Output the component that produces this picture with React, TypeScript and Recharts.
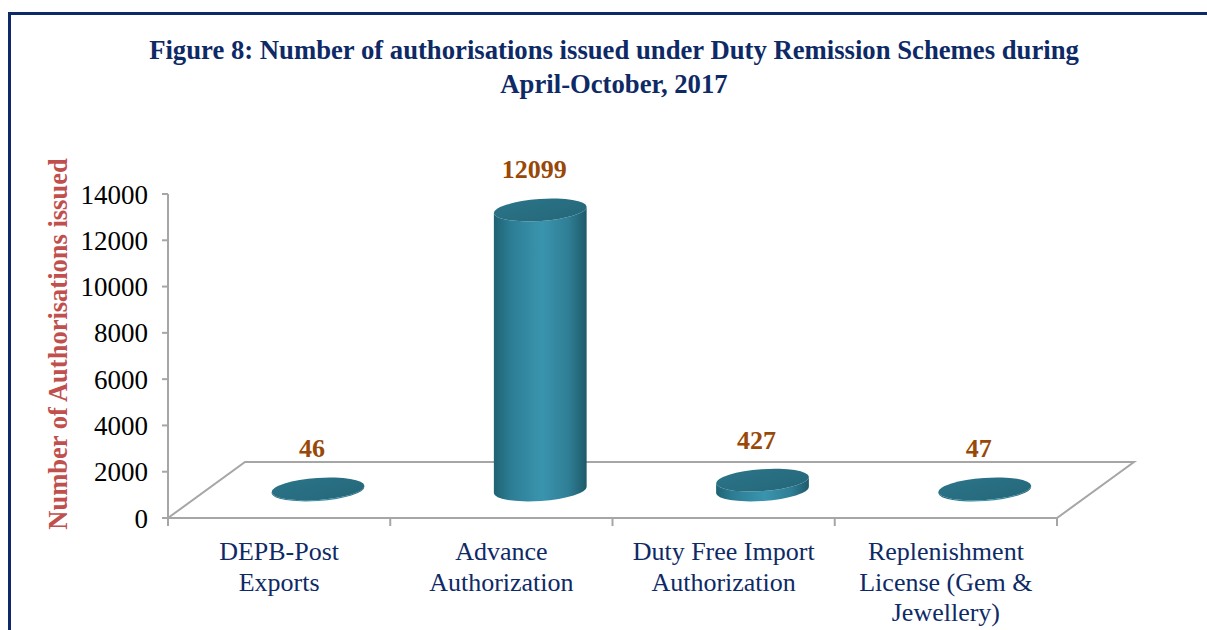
import { BarChart, Bar, XAxis, YAxis, LabelList, usePlotArea } from "recharts";

const CATEGORIES = [
  "DEPB-Post Exports",
  "Advance Authorization",
  "Duty Free Import Authorization",
  "Replenishment License (Gem & Jewellery)",
];
const CATEGORY_LINES = [
  ["DEPB-Post", "Exports"],
  ["Advance", "Authorization"],
  ["Duty Free Import", "Authorization"],
  ["Replenishment", "License (Gem &", "Jewellery)"],
];
const AUTHORISATIONS = [46, 12099, 427, 47];
const Y_TICKS = [0, 2000, 4000, 6000, 8000, 10000, 12000, 14000];

const data = CATEGORIES.map((category, i) => ({
  category,
  value: AUTHORISATIONS[i],
}));

const SERIF = '"Liberation Serif", "Times New Roman", serif';
const NAVY = "#0E2A66";
const GRID = "#A6A6A6";
const VALUE_COLOR = "#984807";
const FONT = 26;

// 3D floor depth (px)
const DX = 77;
const DY = 56;
const RY = 11;
const TILT = -4;

function Floor() {
  const area = usePlotArea();
  if (!area) return null;
  const left = area.x;
  const right = area.x + area.width;
  const base = area.y + area.height;
  const n = CATEGORIES.length;
  const pts = `${left},${base} ${right},${base} ${right + DX},${base - DY} ${left + DX},${base - DY}`;
  return (
    <g>
      <defs>
        <linearGradient id="cylBody" x1="0" y1="0" x2="1" y2="0">
          <stop offset="0%" stopColor="#1F6273" />
          <stop offset="18%" stopColor="#2C7D94" />
          <stop offset="52%" stopColor="#3A94AE" />
          <stop offset="80%" stopColor="#2F7F96" />
          <stop offset="100%" stopColor="#1E5A6A" />
        </linearGradient>
        <linearGradient id="cylTop" x1="0" y1="0" x2="1" y2="1">
          <stop offset="0%" stopColor="#2B7488" />
          <stop offset="100%" stopColor="#25677A" />
        </linearGradient>
      </defs>
      <polygon points={pts} fill="none" stroke={GRID} strokeWidth={2} />
      {Array.from({ length: n + 1 }, (_, i) => {
        const x = left + (i * area.width) / n;
        return <line key={i} x1={x} x2={x} y1={base} y2={base + 8} stroke={GRID} strokeWidth={2} />;
      })}
    </g>
  );
}

function Cylinder(props: any) {
  const { x, y, width, height } = props;
  const rx = width / 2;
  const cx = x + width / 2 + DX / 2;
  const topY = y - DY / 2;
  const botY = y + height - DY / 2;
  const a = (TILT * Math.PI) / 180;
  const ex = rx * Math.cos(a);
  const ey = rx * Math.sin(a);
  const body = `M ${cx - ex} ${topY - ey} L ${cx - ex} ${botY - ey} A ${rx} ${RY} ${TILT} 0 0 ${cx + ex} ${botY + ey} L ${cx + ex} ${topY + ey} A ${rx} ${RY} ${TILT} 0 1 ${cx - ex} ${topY - ey} Z`;
  return (
    <g>
      <path d={body} fill="url(#cylBody)" />
      <ellipse
        cx={cx}
        cy={topY}
        rx={rx}
        ry={RY}
        fill="url(#cylTop)"
        transform={`rotate(${TILT} ${cx} ${topY})`}
      />
    </g>
  );
}

function ValueLabel(props: any) {
  const x = Number(props.x);
  const y = Number(props.y);
  const width = Number(props.width);
  return (
    <text
      x={x + width / 2 + DX / 2 - 6}
      y={y - DY / 2 - 40}
      textAnchor="middle"
      dominantBaseline="central"
      fill={VALUE_COLOR}
      fontFamily={SERIF}
      fontWeight="bold"
      fontSize={FONT}
    >
      {props.value}
    </text>
  );
}

function CategoryTick(props: any) {
  const { x, y, payload } = props;
  const lines = CATEGORY_LINES[payload.index] || [payload.value];
  return (
    <text x={x} y={y} textAnchor="middle" fill={NAVY} fontFamily={SERIF} fontSize={FONT}>
      {lines.map((l, i) => (
        <tspan key={i} x={x} y={y + 40 + i * 30.5}>
          {l}
        </tspan>
      ))}
    </text>
  );
}

function AxisTitle(props: any) {
  const vb = props.viewBox || {};
  const cx = vb.x + 48;
  const cy = vb.y + vb.height / 2 - 12;
  return (
    <text
      x={cx}
      y={cy}
      transform={`rotate(-90 ${cx} ${cy})`}
      textAnchor="middle"
      dominantBaseline="central"
      fill="#C0504D"
      fontFamily={SERIF}
      fontWeight="bold"
      fontSize={26.5}
    >
      Number of Authorisations issued
    </text>
  );
}

export default function App() {
  return (
    <div
      style={{
        position: "fixed",
        left: 0,
        top: 0,
        width: 1207,
        height: 630,
        background: "#fff",
        overflow: "hidden",
      }}
    >
      <div
        style={{
          position: "absolute",
          left: 8,
          top: 12,
          right: -10,
          bottom: -10,
          borderTop: `3px solid ${NAVY}`,
          borderLeft: `3px solid ${NAVY}`,
        }}
      />
      <div
        style={{
          position: "absolute",
          left: 0,
          top: 33,
          width: 1228,
          textAlign: "center",
          fontFamily: SERIF,
          fontWeight: "bold",
          fontSize: 26.7,
          lineHeight: "34px",
          color: NAVY,
        }}
      >
        Figure 8: Number of authorisations issued under Duty Remission Schemes during
        <br />
        April-October, 2017
      </div>
      <div style={{ position: "absolute", left: 0, top: 0 }}>
        <BarChart
          width={1207}
          height={630}
          data={data}
          margin={{ top: 194, right: 150, bottom: 0, left: 10 }}
        >
          <Floor />
          <XAxis
            dataKey="category"
            axisLine={false}
            tickLine={false}
            tickSize={0}
            interval={0}
            height={112}
            tick={<CategoryTick />}
          />
          <YAxis
            domain={[0, 14000]}
            ticks={Y_TICKS}
            interval={0}
            width={158}
            tickSize={6}
            tickMargin={14}
            axisLine={{ stroke: GRID, strokeWidth: 2 }}
            tickLine={{ stroke: GRID, strokeWidth: 2 }}
            tick={{ fill: "#000", fontSize: 27, fontFamily: SERIF }}
            label={<AxisTitle />}
          />
          <Bar dataKey="value" barSize={93} shape={<Cylinder />} isAnimationActive={false}>
            <LabelList dataKey="value" content={<ValueLabel />} />
          </Bar>
        </BarChart>
      </div>
    </div>
  );
}
